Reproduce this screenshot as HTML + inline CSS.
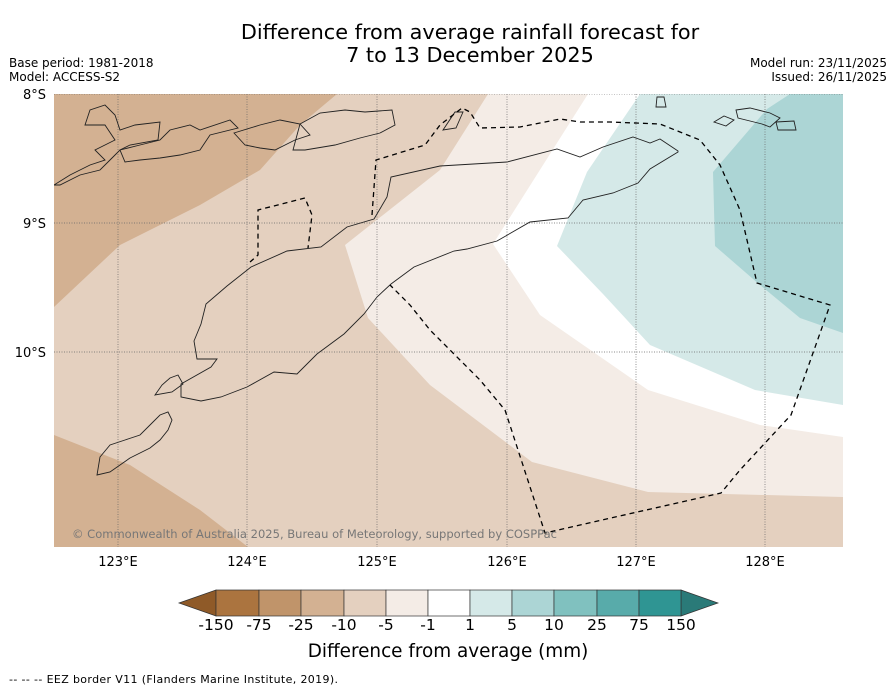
<!DOCTYPE html>
<html><head><meta charset="utf-8"><style>
body{margin:0;width:896px;height:690px;background:#fff;overflow:hidden;font-family:"DejaVu Sans","Liberation Sans",sans-serif}
</style></head><body>
<svg width="896" height="690" viewBox="0 0 896 690" xmlns="http://www.w3.org/2000/svg">
<text x="470" y="39" text-anchor="middle" font-size="20.8">Difference from average rainfall forecast for</text>
<text x="470" y="62" text-anchor="middle" font-size="20.8">7 to 13 December 2025</text>
<text x="9" y="67" font-size="12">Base period: 1981-2018</text>
<text x="9" y="81" font-size="12">Model: ACCESS-S2</text>
<text x="887" y="67" font-size="12" text-anchor="end">Model run: 23/11/2025</text>
<text x="887" y="81" font-size="12" text-anchor="end">Issued: 26/11/2025</text>
<defs><clipPath id="mc"><rect x="54" y="94" width="789" height="453"/></clipPath></defs>
<g clip-path="url(#mc)">
<rect x="54" y="94" width="789" height="453" fill="#e4d0bf"/>
<polygon fill="#d3b192" points="54,94 337,94 300,125 260,170 200,205 120,245 54,307"/>
<polygon fill="#d3b192" points="54,435 130,465 200,510 248,547 54,547"/>
<polygon fill="#f4ece6" points="488,94 843,94 843,497 648,492 532,462 430,385 368,318 345,245 440,170"/>
<polygon fill="#ffffff" points="588,94 843,94 843,437 760,425 648,390 540,315 493,244"/>
<polygon fill="#d5e9e8" points="640,94 843,94 843,405 755,390 650,345 603,294 557,246 587,172"/>
<polygon fill="#acd5d5" points="790,94 843,94 843,333 800,318 760,285 715,246 713,172 767,109"/>
<g stroke="#666" stroke-width="0.7" stroke-dasharray="1,1.5">
<line x1="118" y1="94" x2="118" y2="547"/><line x1="247" y1="94" x2="247" y2="547"/><line x1="377" y1="94" x2="377" y2="547"/><line x1="507" y1="94" x2="507" y2="547"/><line x1="636" y1="94" x2="636" y2="547"/><line x1="765" y1="94" x2="765" y2="547"/>
<line x1="54" y1="94" x2="843" y2="94"/><line x1="54" y1="223" x2="843" y2="223"/><line x1="54" y1="352" x2="843" y2="352"/>
</g>
<g fill="none" stroke="#222" stroke-width="0.9">
<path d="M678,151 L660,139 L650,143 L633,137 L603,147 L580,157 L557,149 L507,162 L440,166 L391,177 L387,197 L374,219 L347,227 L321,247 L287,251 L251,267 L227,286 L206,304 L201,324 L194,341 L197,359 L217,359 L211,367 L181,384 L181,397 L201,401 L221,397 L247,387 L274,372 L297,374 L317,354 L344,334 L364,314 L377,297 L391,284 L414,267 L454,251 L467,249 L497,241 L530,222 L568,218 L583,200 L613,193 L638,183 L650,169 L678,152 Z"/>
<path d="M54,185 L70,175 L90,165 L105,160 L95,150 L115,140 L105,125 L85,125 L90,110 L105,105 L115,115 L120,130 L135,125 L160,122 L158,140 L130,145 L120,150 L110,160 L100,170 L80,175 L60,185 Z"/>
<path d="M120,150 L140,145 L160,140 L170,130 L190,125 L200,130 L230,120 L238,128 L210,135 L200,150 L180,155 L160,158 L140,160 L125,162 Z"/>
<path d="M234,133 L260,125 L280,120 L300,124 L310,135 L295,140 L275,150 L260,148 L245,145 Z"/>
<path d="M300,124 L320,113 L345,110 L365,112 L392,110 L395,125 L380,133 L360,138 L335,145 L305,150 L293,150 Z"/>
<path d="M443,130 L455,112 L463,112 L456,128 Z"/>
<path d="M657,97 L664,97 L666,107 L656,107 Z"/>
<path d="M714,122 L724,116 L734,120 L726,126 Z"/>
<path d="M736,110 L750,108 L770,113 L780,118 L770,127 L762,124 L750,121 L738,118 Z"/>
<path d="M776,122 L794,121 L796,130 L778,130 Z"/>
<path d="M100,457 L110,445 L125,440 L140,435 L150,425 L160,415 L168,412 L172,420 L168,430 L160,440 L150,448 L130,458 L110,472 L97,475 Z"/>
<path d="M155,395 L162,385 L170,378 L178,375 L183,384 L172,392 Z"/>
</g>
<g fill="none" stroke="#000" stroke-width="1.3" stroke-dasharray="5,4">
<path d="M250,262 L258,255 L258,210 L305,198 L312,215 L308,248"/>
<path d="M372,215 L376,160 L425,145 L440,125 L462,108 L470,112 L480,128 L520,127 L560,119 L580,122 L610,122 L660,124 L700,140 L720,165 L740,210 L757,283 L830,305 L791,415 L740,470 L721,493 L545,533 L505,410 L480,380 L430,330 L410,305 L390,285"/>
</g>
<text x="72" y="538" font-size="11.5" fill="#777" textLength="485">© Commonwealth of Australia 2025, Bureau of Meteorology, supported by COSPPac</text>
</g>
<g font-size="13" fill="#000">
<text x="46" y="99" text-anchor="end">8°S</text><text x="46" y="228" text-anchor="end">9°S</text><text x="46" y="357" text-anchor="end">10°S</text>
</g>
<g font-size="13" text-anchor="middle">
<text x="118" y="566">123°E</text><text x="247" y="566">124°E</text><text x="377" y="566">125°E</text><text x="507" y="566">126°E</text><text x="636" y="566">127°E</text><text x="765" y="566">128°E</text>
</g>
<g stroke="#333" stroke-width="0.7">
<polygon points="179,603 216,590 216,616" fill="#8f5a28"/>
<polygon points="681,590 718,603 681,616" fill="#2a7a78"/>
<rect x="216" y="590" width="43" height="26" fill="#ab743f"/>
<rect x="259" y="590" width="42" height="26" fill="#c0946a"/>
<rect x="301" y="590" width="43" height="26" fill="#d3b192"/>
<rect x="344" y="590" width="42" height="26" fill="#e4d0bf"/>
<rect x="386" y="590" width="42" height="26" fill="#f4ece6"/>
<rect x="428" y="590" width="42" height="26" fill="#ffffff"/>
<rect x="470" y="590" width="42" height="26" fill="#d5e9e8"/>
<rect x="512" y="590" width="42" height="26" fill="#acd5d5"/>
<rect x="554" y="590" width="43" height="26" fill="#80c1bf"/>
<rect x="597" y="590" width="42" height="26" fill="#58abaa"/>
<rect x="639" y="590" width="42" height="26" fill="#2f9593"/>
</g>
<g font-size="15.5" text-anchor="middle">
<text x="216" y="630">-150</text><text x="259" y="630">-75</text><text x="301" y="630">-25</text><text x="344" y="630">-10</text><text x="386" y="630">-5</text><text x="428" y="630">-1</text><text x="470" y="630">1</text><text x="512" y="630">5</text><text x="554" y="630">10</text><text x="597" y="630">25</text><text x="639" y="630">75</text><text x="681" y="630">150</text>
</g>
<text x="448" y="657" font-size="18.4" text-anchor="middle">Difference from average (mm)</text>
<text x="9" y="683" font-size="11" textLength="329">--  --  -- EEZ border V11 (Flanders Marine Institute, 2019).</text>
</svg>
</body></html>
